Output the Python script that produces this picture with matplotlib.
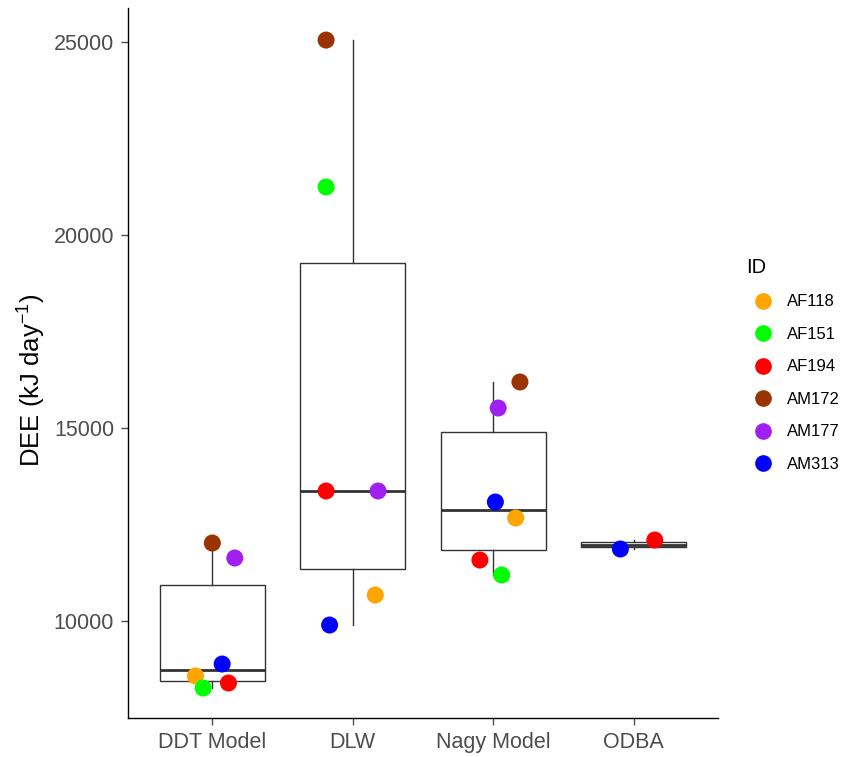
import matplotlib.pyplot as plt
from matplotlib.lines import Line2D
import numpy as np

plt.rcParams['font.family'] = ['Liberation Sans', 'DejaVu Sans']
plt.rcParams['mathtext.fontset'] = 'custom'
plt.rcParams['mathtext.rm'] = 'Liberation Sans'

# DEE estimates (kJ/day) per method, one value per animal
methods = ['DDT Model', 'DLW', 'Nagy Model', 'ODBA']
ids = ['AF118', 'AF151', 'AF194', 'AM172', 'AM177', 'AM313']
colors = {'AF118': '#FFA500', 'AF151': '#00FF00', 'AF194': '#FF0000',
          'AM172': '#993300', 'AM177': '#A020F0', 'AM313': '#0000FF'}

ddt_ids = ['AF118', 'AF151', 'AF194', 'AM172', 'AM177', 'AM313']
ddt_dee = [8575, 8264, 8394, 12020, 11632, 8886]
dlw_ids = ['AF118', 'AF151', 'AF194', 'AM172', 'AM177', 'AM313']
dlw_dee = [10674, 21244, 13368, 25050, 13368, 9896]
nagy_ids = ['AF118', 'AF151', 'AF194', 'AM172', 'AM177', 'AM313']
nagy_dee = [12668, 11192, 11580, 16192, 15518, 13083]
odba_ids = ['AF194', 'AM313']
odba_dee = [12098, 11865]

groups = [(ddt_ids, ddt_dee), (dlw_ids, dlw_dee), (nagy_ids, nagy_dee), (odba_ids, odba_dee)]

# horizontal jitter of the points (fraction of category spacing)
jitter = [[-0.12, -0.065, 0.115, 0.0, 0.16, 0.07],
          [0.16, -0.19, -0.19, -0.19, 0.18, -0.165],
          [0.16, 0.06, -0.095, 0.19, 0.035, 0.015],
          [0.15, -0.095]]

fig = plt.figure(figsize=(8.44, 7.57), dpi=100)
ax = fig.add_axes([0.1517, 0.0515, 0.6990, 0.9379])

pos = np.arange(1, len(methods) + 1)
ax.boxplot([g[1] for g in groups], positions=pos, widths=0.75, whis=1.5,
           showfliers=False, showcaps=False, patch_artist=True,
           boxprops=dict(facecolor='white', edgecolor='#333333', linewidth=1.0),
           whiskerprops=dict(color='#333333', linewidth=1.0),
           medianprops=dict(color='#333333', linewidth=2.0))

for i, (gid, vals) in enumerate(groups):
    for j, (a, v) in enumerate(zip(gid, vals)):
        ax.scatter(pos[i] + jitter[i][j], v, s=150, color=colors[a],
                   edgecolors='none', zorder=5)

ax.set_xlim(0.4, 4.6)
ax.set_ylim(7487, 25880)
ax.set_xticks(pos)
ax.set_xticklabels(methods)
ax.set_yticks([10000, 15000, 20000, 25000])
ax.tick_params(axis='both', colors='#4D4D4D', labelsize=15.5, length=5, width=1, pad=5)
for s in ['top', 'right']:
    ax.spines[s].set_visible(False)
for s in ['left', 'bottom']:
    ax.spines[s].set_color('black')
    ax.spines[s].set_linewidth(1.0)
ax.set_ylabel(r'DEE (kJ day$^{\mathregular{-1}}$)', fontsize=18.5, color='black')
ax.yaxis.set_label_coords(-0.138, 0.476)

handles = [Line2D([], [], marker='o', linestyle='none', markersize=12,
                  markerfacecolor=colors[a], markeredgecolor='none') for a in ids]
leg = fig.legend(handles, ids, title='ID', loc='upper left',
                 bbox_to_anchor=(0.866, 0.679), frameon=False, fontsize=12,
                 title_fontsize=14.5, labelspacing=1.05, handletextpad=0.45,
                 alignment='left')

fig.savefig('out.png', dpi=100)
